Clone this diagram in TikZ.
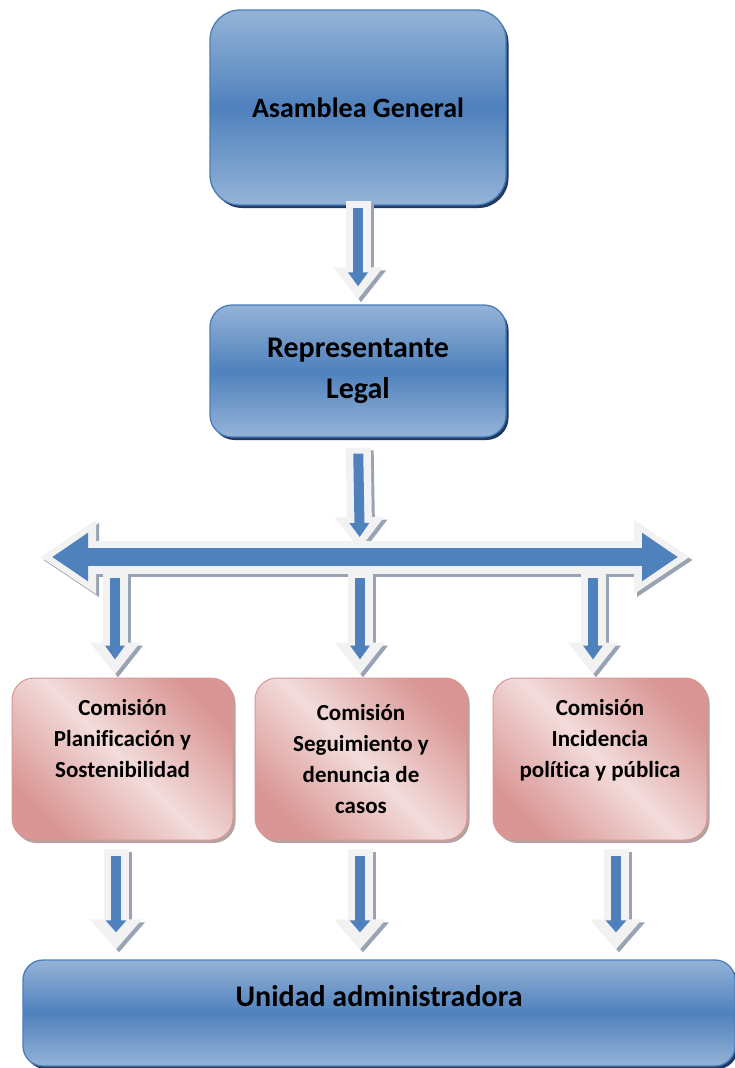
\documentclass[tikz,border=0pt]{standalone}
\usepackage{fontspec}
\setmainfont[Ligatures=NoCommon]{Carlito}
\usetikzlibrary{arrows.meta,shadows,calc}
\definecolor{blueL}{HTML}{95B3D7}
\definecolor{blueM}{HTML}{4F81BD}
\definecolor{blueB}{HTML}{4A7EBB}
\definecolor{blueS}{HTML}{1F3A60}
\definecolor{pinkD}{HTML}{D99694}
\definecolor{pinkL}{HTML}{F2DCDB}
\definecolor{pinkB}{HTML}{D99694}
\definecolor{pinkS}{HTML}{A08C8C}
\definecolor{arrW}{HTML}{F2F2F2}
\definecolor{arrS}{HTML}{98A3B3}
\definecolor{arrB}{HTML}{4F81BD}
\begin{document}
\begin{tikzpicture}[x=1pt,y=-1pt,
  bluebox/.style={draw=blueB, line width=1.3pt, top color=blueL, bottom color=blueL, middle color=blueM,
    drop shadow={shadow xshift=2.5pt, shadow yshift=-3pt, fill=blueS, opacity=1},
    align=center, inner sep=0pt, font=\bfseries},
  pinkbox/.style={draw=pinkB, line width=1pt, rounded corners=22pt, top color=pinkD, bottom color=pinkD, middle color=pinkL,
    shading angle=-45,
    drop shadow={shadow xshift=2.5pt, shadow yshift=-3pt, fill=pinkS, opacity=0.8},
    align=center, inner sep=0pt, minimum height=162pt, font=\bfseries\fontsize{23}{31}\selectfont},
  wht/.style={draw=arrW},
  shd/.style={draw=arrS, transform canvas={shift={(3pt,-3pt)}}},
  blu/.style={draw=arrB},
  outerA/.style={line width=25pt, -{Triangle[width=48pt,length=32pt]}},
  innerA/.style={line width=10pt, -{Triangle[width=19pt,length=14pt]}},
  outerC/.style={line width=25pt, -{Triangle[width=50pt,length=30pt]}},
  innerC/.style={line width=10pt, -{Triangle[width=20pt,length=12pt]}},
  outerBar/.style={line width=33pt, {Triangle[width=70pt,length=56pt]}-{Triangle[width=70pt,length=56pt]}},
  innerBar/.style={line width=18pt, {Triangle[width=46pt,length=36pt]}-{Triangle[width=46pt,length=36pt]}, shorten <=12pt, shorten >=12pt},
]
\useasboundingbox (0,0) rectangle (734,1068);

% boxes
\node[bluebox, rounded corners=30pt, minimum width=296pt, minimum height=195pt, font=\bfseries\fontsize{28}{41}\selectfont]
  (ag) at (358,107.5) {Asamblea General};
\node[bluebox, rounded corners=22pt, minimum width=296pt, minimum height=132pt, font=\bfseries\fontsize{30}{41}\selectfont]
  (rl) at (358,371) {Representante\\Legal};
\node[pinkbox, minimum width=221pt] (p1) at (122.5,759) {Comisión\\Planificación y\\Sostenibilidad\\\strut};
\node[pinkbox, minimum width=212pt] (p2) at (361,759) {Comisión\\Seguimiento y\\denuncia de\\casos};
\node[pinkbox, minimum width=214pt] (p3) at (600,759) {Comisión\\Incidencia\\política y pública\\\strut};
\node[bluebox, rounded corners=20pt, minimum width=712pt, minimum height=106pt, text depth=34pt, font=\bfseries\fontsize{30}{34}\selectfont]
  (ua) at (379,1013) {Unidad administradora};

% connector coordinates
\coordinate (barL) at (40,557);
\coordinate (barR) at (690,557);
\coordinate (b1) at (115,557);
\coordinate (b2) at (360,557);
\coordinate (b3) at (593,557);
\coordinate (l1) at ([xshift=-6.5pt,yshift=-8pt]p1.south);
\coordinate (l2) at ([xshift=-1pt,yshift=-8pt]p2.south);
\coordinate (l3) at ([xshift=16pt,yshift=-8pt]p3.south);

% shadows
\draw[shd, outerA, shorten <=-5pt, shorten >=5pt] (ag.south) -- (rl.north);
\draw[shd, outerA, shorten <=10pt, shorten >=8pt] (rl.south) -- (b2);
\draw[shd, outerBar] (barL) -- (barR);
\foreach \b/\p in {b1/p1,b2/p2,b3/p3}
  \draw[shd, outerA, shorten >=3pt] (\b) -- (\b |- \p.north);
\foreach \l in {l1,l2,l3}
  \draw[shd, outerC, shorten >=10pt] (\l) -- (\l |- ua.north);

% white outer arrows
\draw[wht, outerA, shorten <=-5pt, shorten >=5pt] (ag.south) -- (rl.north);
\draw[wht, outerA, shorten <=10pt, shorten >=8pt] (rl.south) -- (b2);
\draw[wht, outerBar] (barL) -- (barR);
\foreach \b/\p in {b1/p1,b2/p2,b3/p3}
  \draw[wht, outerA, shorten >=3pt] (\b) -- (\b |- \p.north);
\foreach \l in {l1,l2,l3}
  \draw[wht, outerC, shorten >=10pt] (\l) -- (\l |- ua.north);

% blue inner arrows
\draw[blu, innerA, shorten <=2pt, shorten >=18pt] (ag.south) -- (rl.north);
\draw[blu, innerA, shorten <=16pt, shorten >=20pt] (rl.south) -- (b2);
\draw[blu, innerBar] (barL) -- (barR);
\foreach \b/\p in {b1/p1,b2/p2,b3/p3}
  \draw[blu, innerA, shorten <=21pt, shorten >=18pt] (\b) -- (\b |- \p.north);
\foreach \l in {l1,l2,l3}
  \draw[blu, innerC, shorten <=7pt, shorten >=27pt] (\l) -- (\l |- ua.north);
\end{tikzpicture}
\end{document}
